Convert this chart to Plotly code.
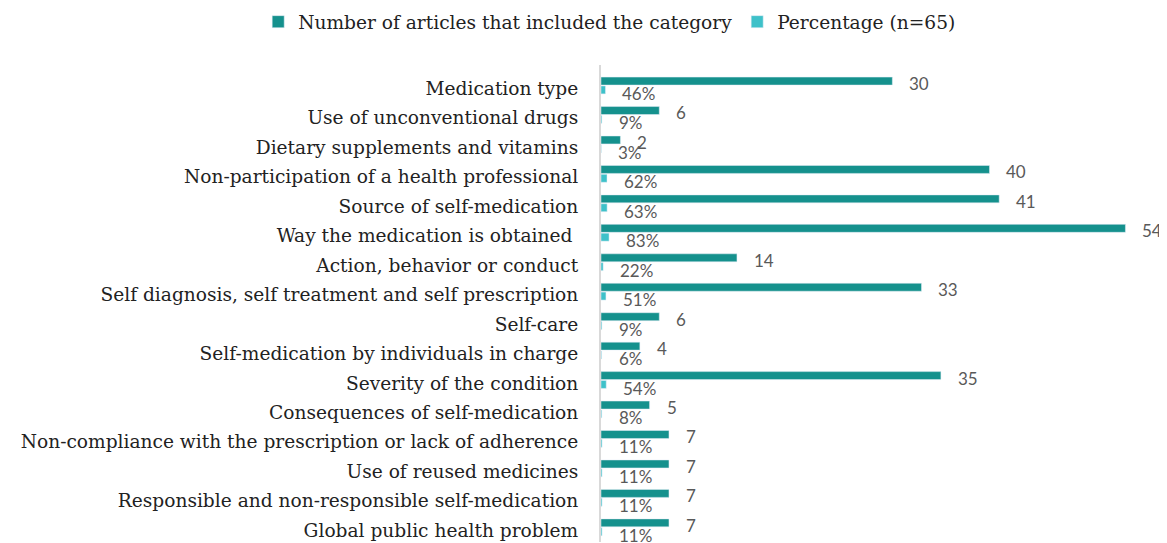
import plotly.graph_objects as go

categories = [
    "Medication type",
    "Use of unconventional drugs",
    "Dietary supplements and vitamins",
    "Non-participation of a health professional",
    "Source of self-medication",
    "Way the medication is obtained\u00a0",
    "Action, behavior or conduct",
    "Self diagnosis, self treatment and self prescription",
    "Self-care",
    "Self-medication by individuals in charge",
    "Severity of the condition",
    "Consequences of self-medication",
    "Non-compliance with the prescription or lack of adherence",
    "Use of reused medicines",
    "Responsible and non-responsible self-medication",
    "Global public health problem",
]
counts = [30, 6, 2, 40, 41, 54, 14, 33, 6, 4, 35, 5, 7, 7, 7, 7]
percent = [46, 9, 3, 62, 63, 83, 22, 51, 9, 6, 54, 8, 11, 11, 11, 11]
series_names = ["Number of articles that included the category", "Percentage (n=65)"]

dark = "#15918D"
light = "#3EC1C9"
label_color = "#595959"
serif = "DejaVu Serif"
sans = "Lato"

pct_frac = [p / 100 for p in percent]

fig = go.Figure()
fig.add_trace(go.Bar(y=categories, x=counts, orientation="h", name=series_names[0],
                     marker_color=dark))
fig.add_trace(go.Bar(y=categories, x=pct_frac, orientation="h", name=series_names[1],
                     marker_color=light))

annotations = []
for c, v, p, pf in zip(categories, counts, percent, pct_frac):
    annotations.append(dict(x=v, y=c, text=str(v), showarrow=False, xanchor="left",
                            xshift=15, yshift=2, font=dict(family=sans, size=17, color=label_color)))
    annotations.append(dict(x=pf, y=c, text=f"{p}%", showarrow=False, xanchor="left",
                            xshift=15, yshift=-8, font=dict(family=sans, size=17, color=label_color)))

fig.update_layout(
    width=1159, height=535,
    margin=dict(l=593, r=27, t=57, b=1, autoexpand=False),
    paper_bgcolor="white", plot_bgcolor="white",
    barmode="group", bargap=0.4, bargroupgap=0.1,
    showlegend=True,
    legend=dict(orientation="h", x=-0.636, xanchor="left", y=1.09, yanchor="middle",
                font=dict(family=serif, size=18.6, color="#222222"), itemwidth=30,
                traceorder="normal"),
    annotations=annotations,
)
fig.update_xaxes(range=[0, 55.5], visible=False, showgrid=False, zeroline=False)
fig.update_yaxes(autorange="reversed", showline=True, linecolor="#D9D9D9", linewidth=2,
                 ticks="", ticklabelstandoff=17, ticklabelshift=-3, showgrid=False,
                 tickfont=dict(family=serif, size=18.6, color="#222222"))

fig.write_html("out.html")
